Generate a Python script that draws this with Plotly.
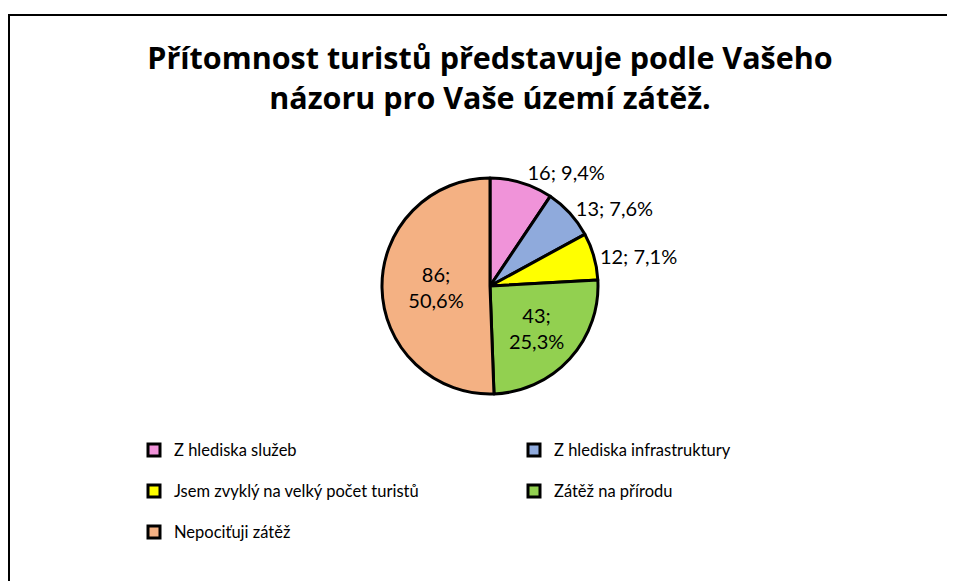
import plotly.graph_objects as go

categories = ["Z hlediska služeb", "Z hlediska infrastruktury",
              "Jsem zvyklý na velký počet turistů", "Zátěž na přírodu",
              "Nepociťuji zátěž"]
values = [16, 13, 12, 43, 86]
colors = ["#F093D9", "#8FAADC", "#FFFF00", "#92D050", "#F4B183"]
text_positions = ["outside", "outside", "outside", "inside", "inside"]
templates = ["%{value}; %{percent:.1%}", "%{value}; %{percent:.1%}",
             "%{value}; %{percent:.1%}", "%{value};<br>%{percent:.1%}",
             "%{value};<br>%{percent:.1%}"]

OFF = 8  # page body margin
W, H = 955 - OFF, 581 - OFF
FONT = "Lato"


def px(x):
    return (x - OFF) / W


def py(y):
    return 1 - (y - OFF) / H


legend_names = [f"<span style='font-size:16.5px'>{c}</span><br> " for c in categories]

fig = go.Figure()
fig.add_trace(go.Pie(
    labels=legend_names, values=values, sort=False, direction="clockwise",
    rotation=0,
    marker=dict(colors=colors, line=dict(color="black", width=3)),
    textposition=text_positions, texttemplate=templates,
    insidetextorientation="horizontal",
    textfont=dict(family=FONT, size=20, color="black"),
    domain=dict(x=[px(382), px(598)], y=[py(394), py(178)]),
    hovertext=categories, hoverinfo="text+value+percent",
))

fig.update_layout(
    width=W, height=H, margin=dict(l=0, r=0, t=0, b=0),
    paper_bgcolor="white", plot_bgcolor="white",
    separators=", ",
    title=dict(text="<b>Přítomnost turistů představuje podle Vašeho<br>názoru pro Vaše území zátěž.</b>",
               x=px(490), xanchor="center", y=py(69), yanchor="top",
               font=dict(family="Open Sans", size=30.5, color="black")),
    legend=dict(orientation="h", x=px(134), xanchor="left", y=py(434), yanchor="top",
                entrywidth=335, itemwidth=30, valign="top",
                font=dict(family=FONT, size=14.6, color="black"),
                traceorder="normal", bgcolor="rgba(0,0,0,0)"),
    shapes=[dict(type="rect", xref="paper", yref="paper",
                 x0=px(9), x1=1.05, y0=-0.05, y1=py(15),
                 line=dict(color="black", width=2), fillcolor="rgba(0,0,0,0)")],
)

fig.write_html("out.html")
